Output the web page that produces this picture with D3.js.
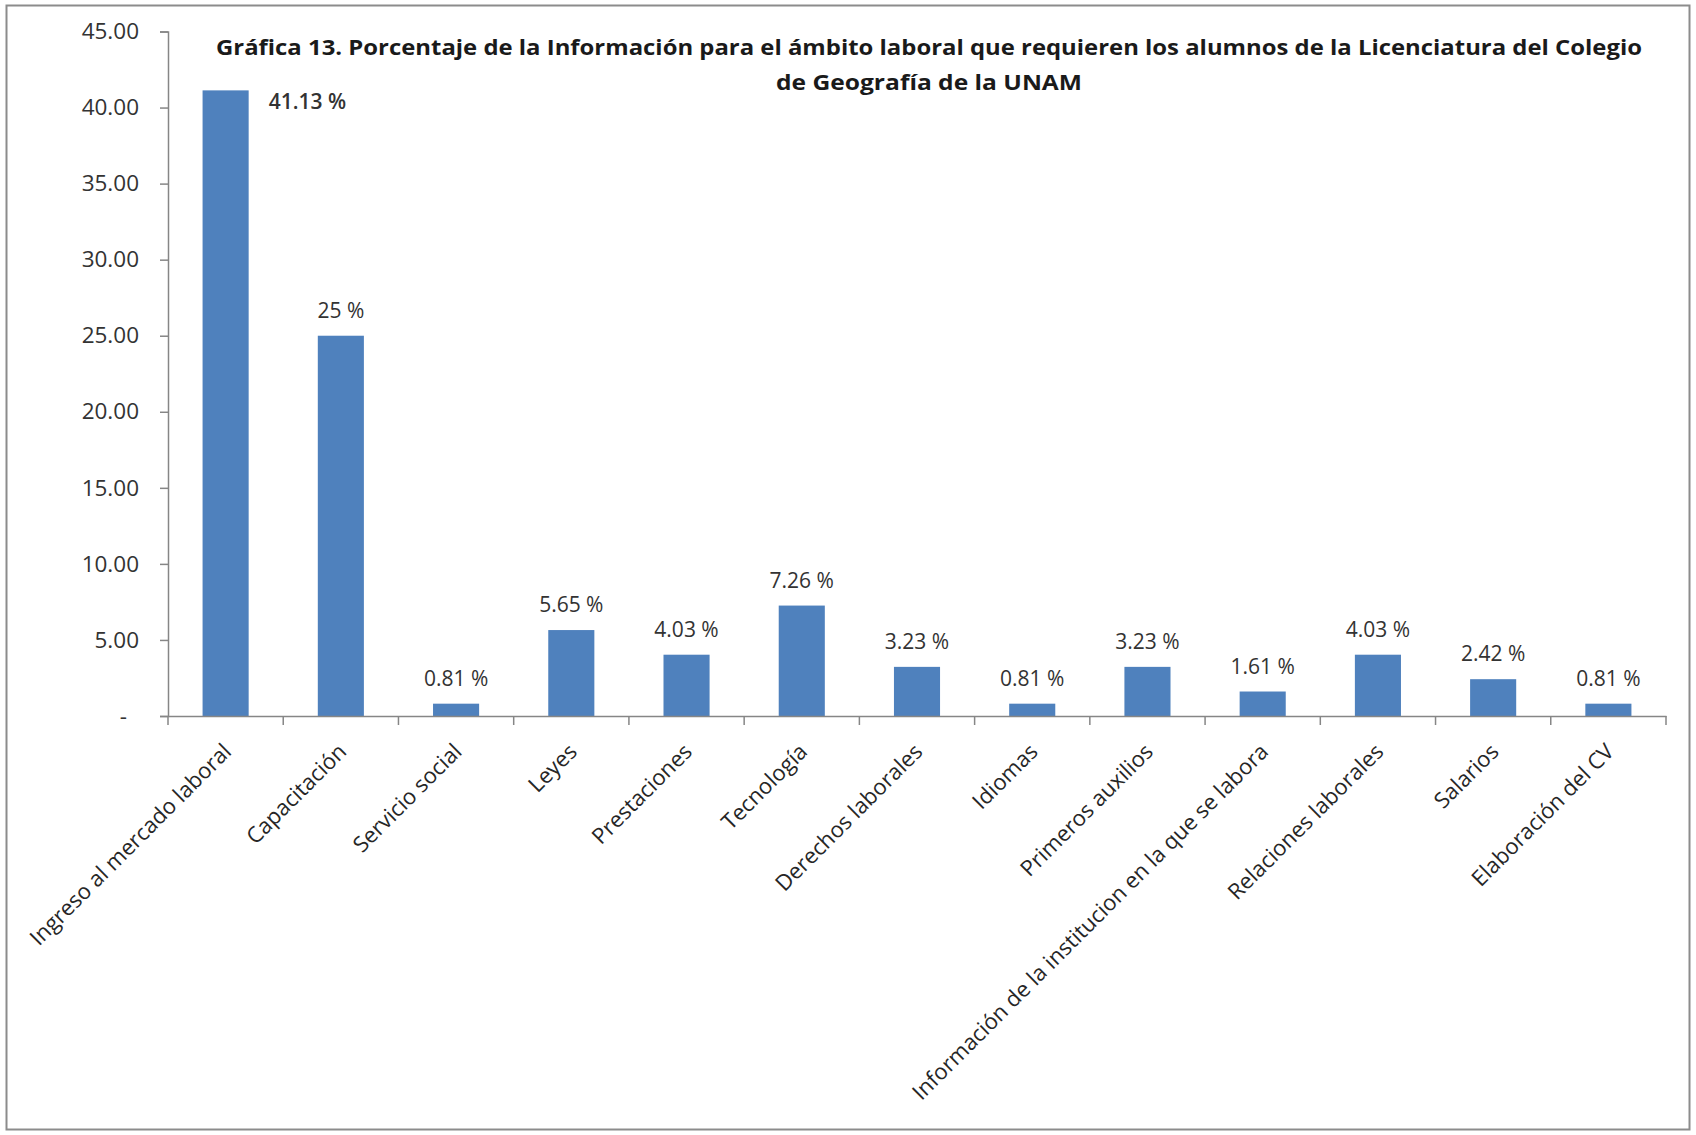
<!DOCTYPE html>
<html>
<head>
<meta charset="utf-8">
<script src="https://cdn.jsdelivr.net/npm/d3@7"></script>
<style>
  html, body { margin: 0; padding: 0; background: #fff; }
  svg { display: block; }
</style>
</head>
<body>
<svg id="chart" width="1696" height="1135"></svg>
<script>
const categories = [
  "Ingreso al mercado laboral", "Capacitación", "Servicio social", "Leyes",
  "Prestaciones", "Tecnología", "Derechos laborales", "Idiomas",
  "Primeros auxilios", "Información de la institucion  en la que se labora",
  "Relaciones laborales", "Salarios", "Elaboración del CV"
];
const values = [41.13, 25, 0.81, 5.65, 4.03, 7.26, 3.23, 0.81, 3.23, 1.61, 4.03, 2.42, 0.81];
const valueLabels = ["41.13 %", "25 %", "0.81 %", "5.65 %", "4.03 %", "7.26 %", "3.23 %",
  "0.81 %", "3.23 %", "1.61 %", "4.03 %", "2.42 %", "0.81 %"];
const yTicks = [0, 5, 10, 15, 20, 25, 30, 35, 40, 45];
const yTickLabels = ["-", "5.00", "10.00", "15.00", "20.00", "25.00", "30.00", "35.00", "40.00", "45.00"];
const titleLines = [
  "Gráfica 13. Porcentaje de la Información  para el ámbito laboral que requieren los alumnos de la Licenciatura del Colegio",
  "de Geografía de la UNAM"
];

const svg = d3.select("#chart");
const plot = { left: 168, right: 1666, top: 31.5, bottom: 716 };
const FONT = "'Open Sans', 'DejaVu Sans', sans-serif";

// outer frame
svg.append("rect").attr("x", 6.5).attr("y", 5.5).attr("width", 1683).attr("height", 1124)
  .attr("fill", "#fff").attr("stroke", "#8c8c8c").attr("stroke-width", 2);

const x = d3.scaleBand().domain(categories).range([plot.left, plot.right])
  .paddingInner(0.6).paddingOuter(0.3);
const xSlots = d3.scaleBand().domain(categories).range([plot.left, plot.right]).padding(0);
const y = d3.scaleLinear().domain([0, 45]).range([plot.bottom, plot.top]);

// bars
svg.append("g").selectAll("rect").data(values).join("rect")
  .attr("x", (d, i) => x(categories[i]))
  .attr("y", d => y(d))
  .attr("width", x.bandwidth())
  .attr("height", d => y(0) - y(d))
  .attr("fill", "#4F81BD");

// y axis
const yAxis = d3.axisLeft(y).tickValues(yTicks).tickSize(8).tickPadding(21)
  .tickFormat((d, i) => yTickLabels[i]);
const gy = svg.append("g").attr("transform", `translate(${plot.left},0)`).call(yAxis);
gy.select(".domain").attr("stroke", "#868686").attr("stroke-width", 1.5);
gy.selectAll(".tick line").attr("stroke", "#868686").attr("stroke-width", 1.5);
gy.selectAll(".tick text").attr("font-family", FONT).attr("font-size", 22.5).attr("fill", "#333")
  .attr("dx", (d, i) => i === 0 ? -12 : 0);

// x axis
const xAxis = d3.axisBottom(xSlots).tickSize(0).tickFormat("");
const gx = svg.append("g").attr("transform", `translate(0,${plot.bottom})`).call(xAxis);
gx.select(".domain").attr("stroke", "#868686").attr("stroke-width", 1.5);
const bounds = categories.map(c => xSlots(c)).concat([xSlots(categories[categories.length - 1]) + xSlots.bandwidth()]);
gx.selectAll(".bound").data(bounds).join("line").attr("class", "bound")
  .attr("x1", d => d).attr("x2", d => d).attr("y1", 0).attr("y2", 9)
  .attr("stroke", "#868686").attr("stroke-width", 1.5);

// category labels
svg.append("g").selectAll("text").data(categories).join("text")
  .attr("transform", c => `translate(${xSlots(c) + xSlots.bandwidth() / 2 + 7},${plot.bottom + 37}) rotate(-45)`)
  .attr("text-anchor", "end")
  .attr("font-family", FONT).attr("font-size", 22).attr("fill", "#262626")
  .text(c => c);

// value labels
svg.append("g").selectAll("text").data(values).join("text")
  .attr("x", (d, i) => d > 40 ? x(categories[i]) + x.bandwidth() + 20 : x(categories[i]) + x.bandwidth() / 2)
  .attr("y", d => d > 40 ? y(d) + 19 : y(d) - 18)
  .attr("text-anchor", d => d > 40 ? "start" : "middle")
  .attr("font-family", FONT).attr("font-size", 21).attr("fill", "#333")
  .attr("font-weight", d => d > 40 ? 600 : 400)
  .text((d, i) => valueLabels[i]);

// title
svg.append("g").selectAll("text").data(titleLines).join("text")
  .attr("x", 929).attr("y", (d, i) => 55 + i * 35)
  .attr("text-anchor", "middle")
  .attr("font-family", FONT).attr("font-weight", 700).attr("font-size", 22).attr("fill", "#1a1a1a")
  .attr("textLength", (d, i) => i === 0 ? 1426 : 306)
  .attr("lengthAdjust", "spacingAndGlyphs")
  .text(d => d);
</script>
</body>
</html>
